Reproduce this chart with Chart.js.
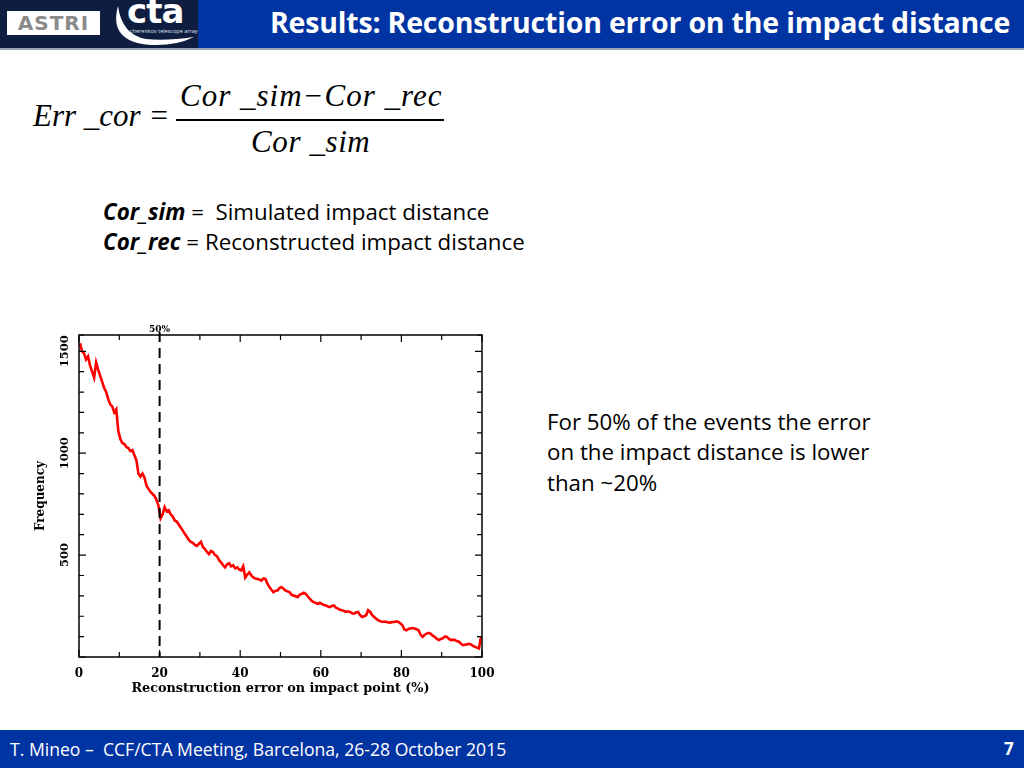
<!DOCTYPE html>
<html>
<head>
<meta charset="utf-8">
<script src="https://cdn.jsdelivr.net/npm/chart.js@4"></script>
<style>
  body { margin: 0; width: 1024px; height: 768px; background: #fff; position: relative; overflow: hidden; font-family: "Open Sans", Lato, sans-serif; }
  .abs { position: absolute; white-space: nowrap; }
  #hdrLeft { left: 0; top: 0; width: 198px; height: 48px; background: #0e1d40; }
  #hdrRight { left: 198px; top: 0; width: 826px; height: 48px; background: #0034a3; }
  #hdrLine { left: 0; top: 48px; width: 1024px; height: 2px; background: #9aa3b5; }
  #title { left: 270px; top: 3px; color: #fff; font-weight: bold; font-size: 28.5px; letter-spacing: -0.2px; }
  #astri { left: 7px; top: 11px; width: 93px; height: 24px; background: #fff; color: #8a8a8a; font: bold 20px "DejaVu Sans", sans-serif; text-align: center; line-height: 24px; letter-spacing: 1px; }
  #cta { left: 127px; top: -9px; color: #fff; font: bold 34px "DejaVu Sans", sans-serif; letter-spacing: -1px; }
  #ctaSub { left: 130px; top: 27px; color: #dfe4ee; font-size: 5.5px; }
  #ctaArc { left: 106px; top: 2px; }
  .math { font-family: "Liberation Serif", "DejaVu Serif", serif; font-style: italic; font-size: 31px; color: #000; }
  #fracBar { left: 176px; top: 119px; width: 268px; height: 1.5px; background: #000; }
  .body { font-size: 22.3px; color: #000; }
  #footer { left: 0; top: 730px; width: 1024px; height: 38px; background: #0034a3; }
  #footText { left: 10px; top: 737px; color: #fff; font-size: 17.6px; }
  #pageNo { left: 1004px; top: 737px; color: #fff; font-size: 17px; font-weight: bold; }
  #chartBox { left: 20px; top: 320px; width: 480px; height: 385px; }
</style>
</head>
<body>
<div class="abs" id="hdrLeft"></div>
<div class="abs" id="hdrRight"></div>
<div class="abs" id="hdrLine"></div>
<div class="abs" id="astri">ASTRI</div>
<svg class="abs" id="ctaArc" width="90" height="48">
  <path d="M12 4 Q 2 40 45 43 Q 70 44 88 35 Q 60 39 40 37 Q 16 33 12 4 Z" fill="#fff"/>
</svg>
<div class="abs" id="cta">cta</div>
<div class="abs" id="ctaSub">cherenkov telescope array</div>
<div class="abs" id="title">Results: Reconstruction error on the impact distance</div>

<div class="abs math" style="left:33px; top:98px;">Err _cor =</div>
<div class="abs math" style="left:180px; top:78px; letter-spacing:1px;">Cor _sim−Cor _rec</div>
<div class="abs" id="fracBar"></div>
<div class="abs math" style="left:251px; top:124px; letter-spacing:0.6px;">Cor _sim</div>

<div class="abs body" style="left:103px; top:196px;"><b><i>Cor_sim</i></b> =&nbsp; Simulated impact distance</div>
<div class="abs body" style="left:103px; top:226px;"><b><i>Cor_rec</i></b> = Reconstructed impact distance</div>

<div class="abs body" style="left:547px; top:406px;">For 50% of the events the error</div>
<div class="abs body" style="left:547px; top:436px;">on the impact distance is lower</div>
<div class="abs body" style="left:547px; top:467px;">than ~20%</div>

<div class="abs" id="chartBox"><canvas id="errChart" width="480" height="385"></canvas></div>

<div class="abs" id="footer"></div>
<div class="abs" id="footText">T. Mineo –&nbsp; CCF/CTA Meeting, Barcelona, 26-28 October 2015</div>
<div class="abs" id="pageNo">7</div>

<script>
// histogram of the reconstruction error, bins of 0.5 %
const binWidth = 0.5;
const frequency = [
  1540, 1500, 1490, 1460, 1475, 1430, 1400, 1370, 1445, 1410, 1380, 1350, 1320, 1300, 1265, 1240, 1230, 1200, 1215, 1110,
  1070, 1050, 1045, 1030, 1025, 1010, 1015, 990, 965, 900, 885, 900, 880, 840, 825, 810, 800, 790, 770, 740,
  680, 700, 735, 715, 720, 700, 690, 670, 665, 650, 635, 620, 605, 590, 575, 565, 560, 550, 545, 555,
  565, 540, 530, 515, 505, 520, 515, 500, 495, 475, 465, 450, 440, 455, 460, 445, 450, 435, 440, 430,
  425, 445, 390, 405, 415, 400, 390, 385, 383, 380, 375, 385, 383, 360, 343, 330, 318, 325, 326, 338,
  343, 335, 326, 322, 318, 305, 302, 298, 294, 305, 310, 315, 310, 298, 286, 275, 269, 265, 261, 266,
  261, 255, 253, 248, 245, 250, 253, 242, 237, 232, 229, 226, 221, 224, 221, 215, 213, 218, 221, 205,
  196, 200, 205, 230, 221, 205, 196, 188, 180, 176, 172, 174, 172, 170, 169, 172, 172, 175, 172, 165,
  156, 135, 131, 138, 140, 142, 140, 136, 131, 110, 99, 108, 115, 118, 115, 105, 99, 90, 83, 88,
  91, 100, 99, 90, 83, 85, 83, 78, 75, 66, 58, 60, 62, 65, 62, 55, 50, 46, 42, 100
];
const medianError = 20;      // 50% of the events below this
const xTickLabels = [0, 20, 40, 60, 80, 100];
const yTickLabels = [500, 1000, 1500];

// one point per bin centre
let points = frequency.map((f, i) => ({ x: (i + 0.5) * binWidth, y: f }));

const serifBold = '"DejaVu Serif", "Liberation Serif", serif';

// frame, inward ticks, rotated y labels and the 50% marker
const framePlugin = {
  id: 'frame',
  afterDraw(chart) {
    const ctx = chart.ctx;
    const a = chart.chartArea;
    const xs = chart.scales.x;
    const ys = chart.scales.y;
    ctx.save();
    ctx.strokeStyle = '#000';
    ctx.lineWidth = 1.5;
    ctx.strokeRect(a.left, a.top, a.right - a.left, a.bottom - a.top);

    ctx.lineWidth = 1.2;
    xs.ticks.forEach(t => {
      let px = xs.getPixelForValue(t.value);
      let len = (t.value % 20 === 0) ? 7 : 5;
      ctx.beginPath();
      ctx.moveTo(px, a.bottom); ctx.lineTo(px, a.bottom - len);
      ctx.moveTo(px, a.top); ctx.lineTo(px, a.top + len);
      ctx.stroke();
    });
    ys.ticks.forEach(t => {
      let py = ys.getPixelForValue(t.value);
      let len = (t.value % 500 === 0) ? 7 : 5;
      ctx.beginPath();
      ctx.moveTo(a.left, py); ctx.lineTo(a.left + len, py);
      ctx.moveTo(a.right, py); ctx.lineTo(a.right - len, py);
      ctx.stroke();
    });

    // y tick labels, rotated like the original
    ctx.fillStyle = '#000';
    ctx.font = 'bold 11.5px ' + serifBold;
    ctx.textAlign = 'center';
    ctx.textBaseline = 'middle';
    yTickLabels.forEach(v => {
      let py = ys.getPixelForValue(v);
      ctx.save();
      ctx.translate(a.left - 14, py);
      ctx.rotate(-Math.PI / 2);
      ctx.fillText(String(v), 0, 0);
      ctx.restore();
    });

    // dashed median line
    let mx = xs.getPixelForValue(medianError);
    ctx.setLineDash([10, 6]);
    ctx.lineWidth = 2;
    ctx.beginPath();
    ctx.moveTo(mx, a.top - 3);
    ctx.lineTo(mx, a.bottom);
    ctx.stroke();
    ctx.setLineDash([]);
    ctx.font = 'bold 9px ' + serifBold;
    ctx.textBaseline = 'bottom';
    ctx.fillText('50%', mx, a.top - 1);
    ctx.restore();
  }
};

new Chart(document.getElementById('errChart'), {
  type: 'line',
  data: {
    datasets: [{
      data: points,
      borderColor: '#ff0000',
      borderWidth: 2.6,
      pointRadius: 0,
      tension: 0,
      fill: false
    }]
  },
  options: {
    responsive: false,
    animation: false,
    layout: { padding: { top: 15, right: 18, left: 0, bottom: 0 } },
    plugins: { legend: { display: false }, tooltip: { enabled: false } },
    scales: {
      x: {
        type: 'linear',
        min: 0,
        max: 100,
        grid: { display: false },
        border: { display: false },
        ticks: {
          stepSize: 10,
          autoSkip: false,
          maxRotation: 0,
          padding: 2,
          color: '#000',
          font: { family: serifBold, weight: 'bold', size: 12 },
          callback: v => xTickLabels.includes(v) ? String(v) : ''
        },
        title: {
          display: true,
          text: 'Reconstruction error on impact point (%)',
          color: '#000',
          padding: { top: 0, bottom: 9 },
          font: { family: serifBold, weight: 'bold', size: 12.8 }
        },
        afterFit(scale) { scale.height = 48; }
      },
      y: {
        min: 0,
        max: 1580,
        grid: { display: false },
        border: { display: false },
        ticks: { stepSize: 100, display: false },
        title: {
          display: true,
          text: 'Frequency',
          color: '#000',
          padding: { top: 14, bottom: 0 },
          font: { family: serifBold, weight: 'bold', size: 12 }
        },
        afterFit(scale) { scale.width = 59; }
      }
    }
  },
  plugins: [framePlugin]
});
</script>
</body>
</html>
